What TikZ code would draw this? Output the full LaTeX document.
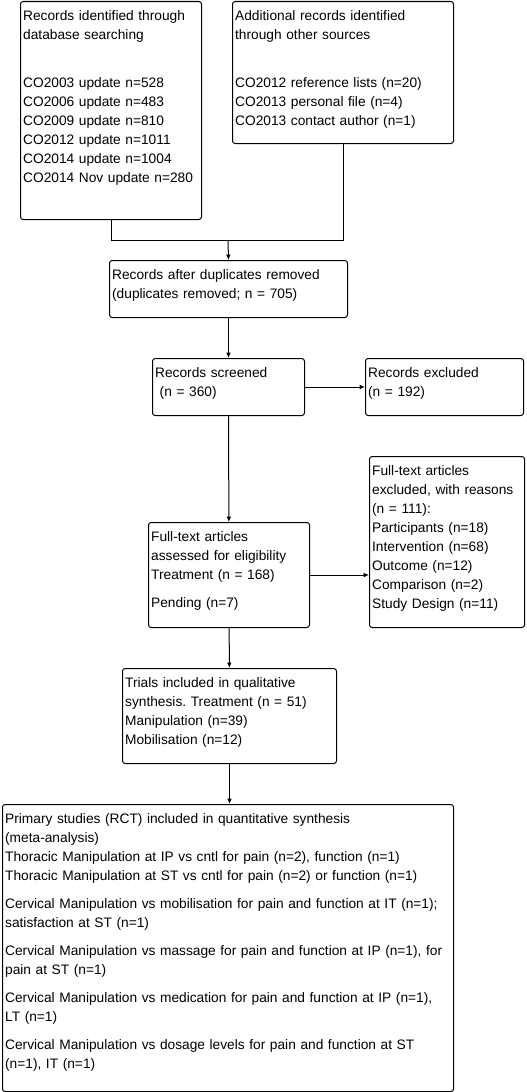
\documentclass[tikz,border=0pt]{standalone}
\usepackage{fontspec}
\setmainfont{Liberation Sans}
\usepackage{tikz}
\usetikzlibrary{arrows.meta}
\frenchspacing

\tikzset{
    flowbox/.style={draw, rounded corners=2pt, line width=0.75pt, anchor=north west,
        align=left, inner xsep=2pt, inner ysep=2pt, text height=12.25pt,
        font=\fontsize{10.3pt}{14.25pt}\selectfont},
    flow/.style={line width=0.75pt},
    flowarrow/.style={flow, -{Latex[length=4pt,width=3.5pt]}}
}

\begin{document}
\begin{tikzpicture}[x=0.75pt, y=-0.75pt]
        \useasboundingbox (0,0) rectangle (526,1092);

        \node[flowbox, text width=131.75pt, text depth=147.25pt] (rec) at (20,1)
            {Records identified through\\database searching\\[22pt]
             CO2003 update n=528\\CO2006 update n=483\\CO2009 update n=810\\
             CO2012 update n=1011\\CO2014 update n=1004\\CO2014 Nov update n=280};
        \node[flowbox, text width=161.75pt, text depth=90.25pt] (oth) at (232,1)
            {Additional records identified\\through other sources\\[22pt]
             CO2012 reference lists (n=20)\\CO2013 personal file (n=4)\\CO2013 contact author (n=1)};

        \node[flowbox, text width=174.5pt, text depth=26.5pt] (dup) at (109,260)
            {Records after duplicates removed\\(duplicates removed; n = 705)};
        \node[flowbox, text width=110pt, text depth=26.5pt] (scr) at (152,358)
            {Records screened\\\ (n = 360)};
        \node[flowbox, text width=114.5pt, text depth=26.5pt] (exc) at (365,358)
            {Records excluded\\(n = 192)};

        \node[flowbox, text width=116.75pt, text depth=62.5pt] (ft) at (148,522)
            {Full-text articles\\assessed for eligibility\\Treatment (n = 168)\\[6.75pt]Pending (n=7)};
        \node[flowbox, text width=112.25pt, text depth=112pt] (fte) at (369,456)
            {Full-text articles\\excluded, with reasons\\(n = 111):\\Participants (n=18)\\
             Intervention (n=68)\\Outcome (n=12)\\Comparison (n=2)\\Study Design (n=11)};

        \node[flowbox, text width=156.5pt, text depth=55pt] (tri) at (122,668)
            {Trials included in qualitative\\synthesis. Treatment (n = 51)\\
             Manipulation (n=39)\\Mobilisation (n=12)};

        \node[flowbox, text width=334.25pt, text depth=199pt] (prim) at (2,804)
            {Primary studies (RCT) included in quantitative synthesis\\(meta-analysis)\\
             Thoracic Manipulation at IP vs cntl for pain (n=2), function (n=1)\\
             Thoracic Manipulation at ST vs cntl for pain (n=2) or function (n=1)\\[6.75pt]
             Cervical Manipulation vs mobilisation for pain and function at IT (n=1);\\
             satisfaction at ST (n=1)\\[6.75pt]
             Cervical Manipulation vs massage for pain and function at IP (n=1), for\\
             pain at ST (n=1)\\[6.75pt]
             Cervical Manipulation vs medication for pain and function at IP (n=1),\\
             LT (n=1)\\[6.75pt]
             Cervical Manipulation vs dosage levels for pain and function at ST\\
             (n=1), IT (n=1)};

        \coordinate (join) at (228,240);
        \draw[flow] (rec.south) |- (join);
        \draw[flow] (oth.south) |- (join);
        \draw[flowarrow] (join) -- (dup.north);
        \draw[flowarrow] (dup) -- (scr);
        \draw[flowarrow] (scr) -- (exc);
        \draw[flowarrow] (scr) -- (ft);
        \draw[flowarrow] (ft.east) -- (ft.east -| fte.west);
        \draw[flowarrow] (ft) -- (tri);
        \draw[flowarrow] (tri.south) -- (tri.south |- prim.north);
    \end{tikzpicture}
\end{document}
